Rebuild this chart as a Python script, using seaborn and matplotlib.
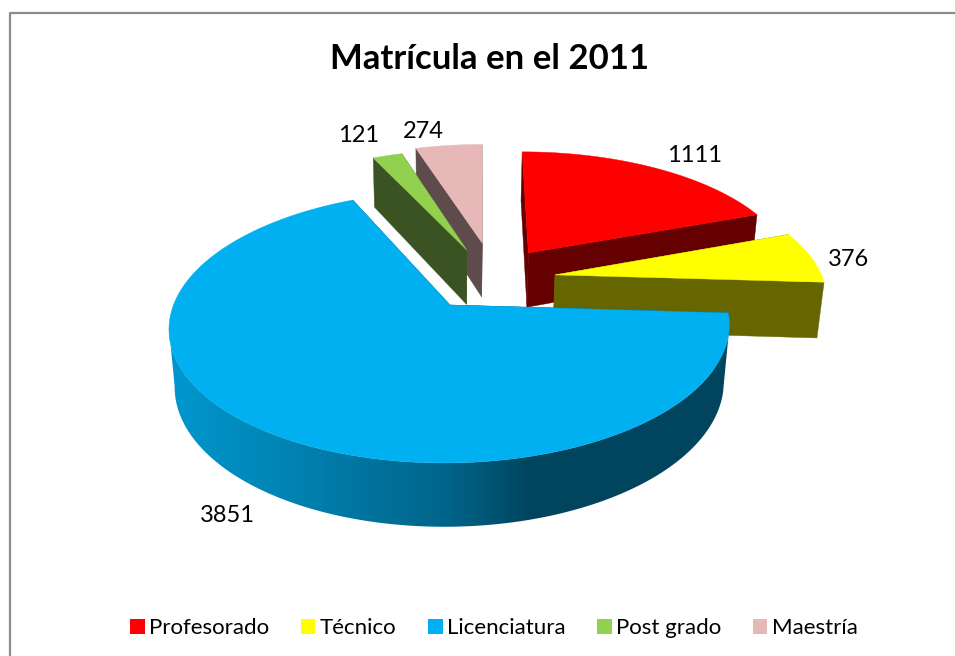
import numpy as np
import matplotlib
matplotlib.use("Agg")
import matplotlib.pyplot as plt
from matplotlib.colors import ListedColormap
from matplotlib.patches import Patch, Polygon
import seaborn as sns

# --- Data ---
categories = ["Profesorado", "Técnico", "Licenciatura", "Post grado", "Maestría"]
matricula = [1111, 376, 3851, 121, 274]
top_colors = ["#FF0000", "#FFFF00", "#00B0F0", "#92D050", "#E6B8B7"]
wall_colors = ["#650000", "#666600", "#00445F", "#3B5323", "#5E4C4C"]

# how far each slice is pulled out of the pie (in pie radii)
explode = [(0.295, 0.42), (0.39, 0.236), (0.0, 0.0), (0.057, 0.444), (0.117, 0.505)]
label_offsets = [(40, -13), (38, 2), (-38, 84), (-29, -20), (-25, -14)]
draw_order = [4, 3, 0, 1, 2]

sns.set_theme(style="white")
plt.rcParams["font.family"] = ["Lato", "DejaVu Sans"]

# --- Pie geometry (pixels of the picture) ---
CX, CY = 450, 305
RX, RY = 276.5, 132.5
HEIGHT = 58
PERSP, PERSP_Z = 0.161, 0.02
SHEAR = 5


def project(x, y, z=0.0):
    d = 1 + PERSP * y + PERSP_Z * z
    return CX + (RX * x + SHEAR * y) / d, CY + (-RY * y + HEIGHT * z) / d


def rim(theta, off):
    return off[0] + np.sin(theta), off[1] + np.cos(theta)


def quad(ax, p, q, color, zorder):
    # side face hanging below the edge p-q
    pts = [project(*p), project(*q), project(*q, 1), project(*p, 1)]
    ax.fill(*zip(*pts), color=color, lw=0.3, zorder=zorder)


fig, ax = plt.subplots(figsize=(9.55, 6.56), dpi=100)
ax.set_position([0, 0, 1, 1])
ax.axis("off")

# chart frame, only left and top are visible in the crop
ax.plot([9.5, 9.5, 955], [656, 13, 13], color="#8C8C8C", lw=1.6, zorder=1)

# shading of the round wall of the big slice, light on the left, dark on the right
shade = ListedColormap(sns.blend_palette(["#0097CE", "#0081B0", "#006388", "#00455F", "#00445E"], n_colors=256))
shade_x = np.array([170, 300, 450, 530, 729])
shade_t = np.linspace(0, 1, 5)

angles = np.cumsum([0] + matricula) / sum(matricula) * 2 * np.pi

for z, i in enumerate(draw_order):
    off = explode[i]
    a0, a1 = angles[i], angles[i + 1]
    th = np.linspace(a0, a1, max(int(np.degrees(a1 - a0) * 1.5), 12))
    base = 10 + z * 5

    # cut faces
    quad(ax, off, rim(a0, off), wall_colors[i], base)
    quad(ax, off, rim(a1, off), wall_colors[i], base + 1)

    # round wall, only the part turned to the viewer (up to the widest point)
    front = th[np.cos(th) <= -PERSP]
    upper = [project(*rim(t, off)) for t in front]
    lower = [project(*rim(t, off), 1) for t in front[::-1]]
    if categories[i] == "Licenciatura":
        ramp = np.interp(np.arange(150, 750), shade_x, shade_t).reshape(1, -1)
        img = ax.imshow(ramp, cmap=shade, vmin=0, vmax=1, aspect="auto",
                        extent=(150, 750, 540, 300), zorder=base + 2)
        img.set_clip_path(Polygon(upper + lower, transform=ax.transData))
    elif len(front) > 1:
        ax.fill(*zip(*(upper + lower)), color=wall_colors[i], lw=0.3, zorder=base + 2)

    # top face
    top = [project(*off)] + [project(*rim(t, off)) for t in th]
    ax.fill(*zip(*top), color=top_colors[i], lw=0.3, zorder=base + 3)

    # value label
    mx, my = project(*rim((a0 + a1) / 2, off))
    ax.text(mx + label_offsets[i][0], my + label_offsets[i][1], str(matricula[i]),
            ha="center", va="center", fontsize=17, color="black", zorder=60)

ax.set_xlim(0, 955)
ax.set_ylim(656, 0)

ax.text(489.5, 59, "Matrícula en el 2011", ha="center", va="center",
        fontsize=25, fontweight="bold", color="black")

handles = [Patch(facecolor=c, edgecolor="none") for c in top_colors]
ax.legend(handles, categories, loc="center", bbox_to_anchor=(494 / 955, 1 - 628 / 656),
          ncol=5, frameon=False, fontsize=16, handlelength=0.65, handleheight=0.65,
          handletextpad=0.2, columnspacing=1.42, labelcolor="black")

plt.savefig("out.png", dpi=100)
